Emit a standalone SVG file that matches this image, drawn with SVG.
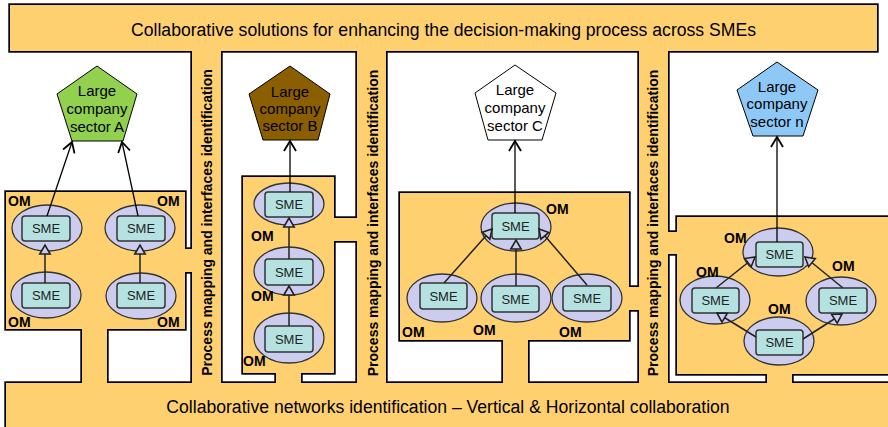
<svg xmlns="http://www.w3.org/2000/svg" xmlns:xlink="http://www.w3.org/1999/xlink" width="888" height="427" viewBox="0 0 888 427">
<style>
.lbl{font-family:"Liberation Sans",Arial,sans-serif;fill:#000}
.big{font-size:17.6px;text-anchor:middle}
.vert{font-size:14px;font-weight:bold;text-anchor:middle}
.pt{font-size:15px;text-anchor:middle}
.om{font-family:"Liberation Sans",Arial,sans-serif;font-size:14px;font-weight:bold;fill:#000}
.sme{font-family:"Liberation Sans",Arial,sans-serif;font-size:13px;text-anchor:middle;fill:#222}
.ell{fill:#CCCCEE;stroke:#333;stroke-width:1.3}
.box{fill:#B5E2E1;stroke:#333;stroke-width:1.5}
.pent{stroke:#000;stroke-width:1}
.up{stroke:#000;stroke-width:1.3;fill:none;marker-end:url(#chev)}
.in{stroke:#222;stroke-width:1.5;fill:none;marker-end:url(#tri)}
</style>
<defs>
<marker id="chev" markerUnits="userSpaceOnUse" markerWidth="16" markerHeight="16" refX="12" refY="8" orient="auto">
<path d="M2,2 L12,8 L2,14" fill="none" stroke="#000" stroke-width="1.8"/>
</marker>
<marker id="tri" markerUnits="userSpaceOnUse" markerWidth="14" markerHeight="14" refX="11" refY="7" orient="auto">
<path d="M2,1.8 L11,7 L2,12.2 Z" fill="#CCCCEE" stroke="#222" stroke-width="1.6"/>
</marker>
<g id="pieces">
<rect x="10" y="5" width="867" height="46"/>
<rect x="192" y="45" width="29" height="345"/>
<rect x="357" y="45" width="29" height="345"/>
<rect x="639" y="45" width="29" height="345"/>
<rect x="6" y="383" width="900" height="60"/>
<rect x="6" y="192" width="179" height="137"/>
<rect x="180" y="249" width="17" height="23"/>
<rect x="82" y="324" width="25" height="64"/>
<rect x="243" y="177" width="91" height="196"/>
<rect x="329" y="218" width="33" height="23"/>
<rect x="276" y="368" width="25" height="20"/>
<rect x="400" y="193" width="229" height="147"/>
<rect x="624" y="287" width="20" height="23"/>
<rect x="503" y="335" width="25" height="53"/>
<rect x="677" y="217" width="230" height="157"/>
<rect x="663" y="232" width="19" height="22"/>
<rect x="767" y="369" width="25" height="19"/>
</g>
</defs>
<rect width="888" height="427" fill="#fff"/>
<g id="walls">
<use xlink:href="#pieces" href="#pieces" fill="#FFD070" stroke="#000" stroke-width="3.4"/>
<use xlink:href="#pieces" href="#pieces" fill="#FFD070" stroke="none"/>
<text class="lbl big" x="443.5" y="36">Collaborative solutions for enhancing the decision-making process across SMEs</text>
<text class="lbl big" x="448" y="413">Collaborative networks identification – Vertical &amp; Horizontal collaboration</text>
<text class="lbl vert" transform="translate(212,222.5) rotate(-90)">Process mapping and interfaces identification</text>
<text class="lbl vert" transform="translate(377.5,223) rotate(-90)">Process mapping and interfaces identification</text>
<text class="lbl vert" transform="translate(658,223) rotate(-90)">Process mapping and interfaces identification</text>
</g>
<g id="pentA">
<polygon class="pent" fill="#92D050" points="97,66 137,94 123,141 72,141 57,94"/>
<text class="lbl pt" x="97" y="96">Large</text><text class="lbl pt" x="97" y="114">company</text><text class="lbl pt" x="97" y="132">sector A</text>
</g>
<g id="pentB">
<polygon class="pent" fill="#8B5E00" points="290,66 330,94 318,140 263,140 249,94"/>
<text class="lbl pt" x="290" y="97">Large</text><text class="lbl pt" x="290" y="114">company</text><text class="lbl pt" x="290" y="131">sector B</text>
</g>
<g id="pentC">
<polygon class="pent" fill="#fff" points="515,65 556,93 542,140 488,140 475,93"/>
<text class="lbl pt" x="515" y="95">Large</text><text class="lbl pt" x="515" y="113">company</text><text class="lbl pt" x="515" y="131">sector C</text>
</g>
<g id="pentN">
<polygon class="pent" fill="#8EC8F6" points="777,62 818,90 803,136 753,136 737,90"/>
<text class="lbl pt" x="777" y="92">Large</text><text class="lbl pt" x="777" y="109">company</text><text class="lbl pt" x="777" y="127">sector n</text>
</g>
<g id="a1"><ellipse class="ell" cx="47" cy="228" rx="35" ry="23"/><rect class="box" x="22" y="216" width="48" height="25" rx="3"/><text class="sme" x="46" y="233">SME</text></g>
<g id="a2"><ellipse class="ell" cx="140" cy="228" rx="35" ry="23"/><rect class="box" x="117" y="216" width="48" height="25" rx="3"/><text class="sme" x="141" y="233">SME</text></g>
<g id="a3"><ellipse class="ell" cx="46" cy="295" rx="35" ry="23"/><rect class="box" x="22" y="283" width="48" height="25" rx="3"/><text class="sme" x="46" y="300">SME</text></g>
<g id="a4"><ellipse class="ell" cx="141" cy="296" rx="35" ry="23"/><rect class="box" x="117" y="283" width="48" height="25" rx="3"/><text class="sme" x="141" y="300">SME</text></g>
<g id="b1"><ellipse class="ell" cx="289" cy="204" rx="35" ry="21"/><rect class="box" x="265" y="192" width="48" height="25" rx="3"/><text class="sme" x="289" y="209">SME</text></g>
<g id="b2"><ellipse class="ell" cx="289" cy="271" rx="35" ry="24"/><rect class="box" x="265" y="259" width="48" height="26" rx="3"/><text class="sme" x="289" y="277">SME</text></g>
<g id="b3"><ellipse class="ell" cx="289" cy="338" rx="35" ry="25"/><rect class="box" x="265" y="326" width="48" height="26" rx="3"/><text class="sme" x="289" y="344">SME</text></g>
<g id="c1"><ellipse class="ell" cx="516" cy="227" rx="35" ry="24"/><rect class="box" x="492" y="213" width="47" height="26" rx="3"/><text class="sme" x="515.5" y="231">SME</text></g>
<g id="c2"><ellipse class="ell" cx="442" cy="298" rx="35" ry="24"/><rect class="box" x="420" y="283" width="47" height="26" rx="3"/><text class="sme" x="443.5" y="301">SME</text></g>
<g id="c3"><ellipse class="ell" cx="516" cy="298" rx="35" ry="24"/><rect class="box" x="492" y="286" width="47" height="26" rx="3"/><text class="sme" x="515.5" y="304">SME</text></g>
<g id="c4"><ellipse class="ell" cx="587" cy="298" rx="35" ry="24"/><rect class="box" x="563" y="286" width="48" height="25" rx="3"/><text class="sme" x="587" y="303">SME</text></g>
<g id="n1"><ellipse class="ell" cx="778" cy="252" rx="35" ry="24"/><rect class="box" x="756" y="242" width="47" height="25" rx="3"/><text class="sme" x="779.5" y="259">SME</text></g>
<g id="n2"><ellipse class="ell" cx="715" cy="300" rx="35" ry="24"/><rect class="box" x="692" y="288" width="47" height="25" rx="3"/><text class="sme" x="715.5" y="305">SME</text></g>
<g id="n3"><ellipse class="ell" cx="841" cy="301" rx="35" ry="24"/><rect class="box" x="819" y="288" width="48" height="25" rx="3"/><text class="sme" x="843" y="305">SME</text></g>
<g id="n4"><ellipse class="ell" cx="779" cy="341" rx="35" ry="24"/><rect class="box" x="756" y="330" width="47" height="25" rx="3"/><text class="sme" x="779.5" y="347">SME</text></g>
<g id="om-labels">
<text class="om" x="8" y="206">OM</text><text class="om" x="157" y="206">OM</text><text class="om" x="8" y="327">OM</text><text class="om" x="157" y="327">OM</text>
<text class="om" x="251" y="241">OM</text><text class="om" x="251" y="301">OM</text><text class="om" x="243" y="366">OM</text>
<text class="om" x="546" y="214">OM</text><text class="om" x="402" y="337">OM</text><text class="om" x="473" y="335">OM</text><text class="om" x="559" y="337">OM</text>
<text class="om" x="724" y="243">OM</text><text class="om" x="696" y="277">OM</text><text class="om" x="832" y="271">OM</text><text class="om" x="768" y="314">OM</text>
</g>
<g id="connectors">
<line class="up" x1="47" y1="216" x2="72" y2="142"/>
<line class="up" x1="138" y1="216" x2="122" y2="142"/>
<line class="up" x1="290" y1="192" x2="290" y2="141"/>
<line class="up" x1="515" y1="213" x2="515" y2="141"/>
<line class="up" x1="777" y1="242" x2="777" y2="137"/>
<line class="in" x1="45" y1="283" x2="45" y2="245"/>
<line class="in" x1="140" y1="283" x2="140" y2="245"/>
<line class="in" x1="289" y1="326" x2="289" y2="286"/>
<line class="in" x1="289" y1="259" x2="289" y2="218"/>
<line class="in" x1="444" y1="283" x2="492" y2="229"/>
<line class="in" x1="516" y1="286" x2="516" y2="240"/>
<line class="in" x1="587" y1="285" x2="539" y2="229"/>
<line class="in" x1="716" y1="288" x2="755" y2="257"/>
<line class="in" x1="843" y1="288" x2="805" y2="257"/>
<line class="in" x1="756" y1="337" x2="717" y2="313"/>
<line class="in" x1="803" y1="339" x2="842" y2="314"/>
</g>
</svg>
